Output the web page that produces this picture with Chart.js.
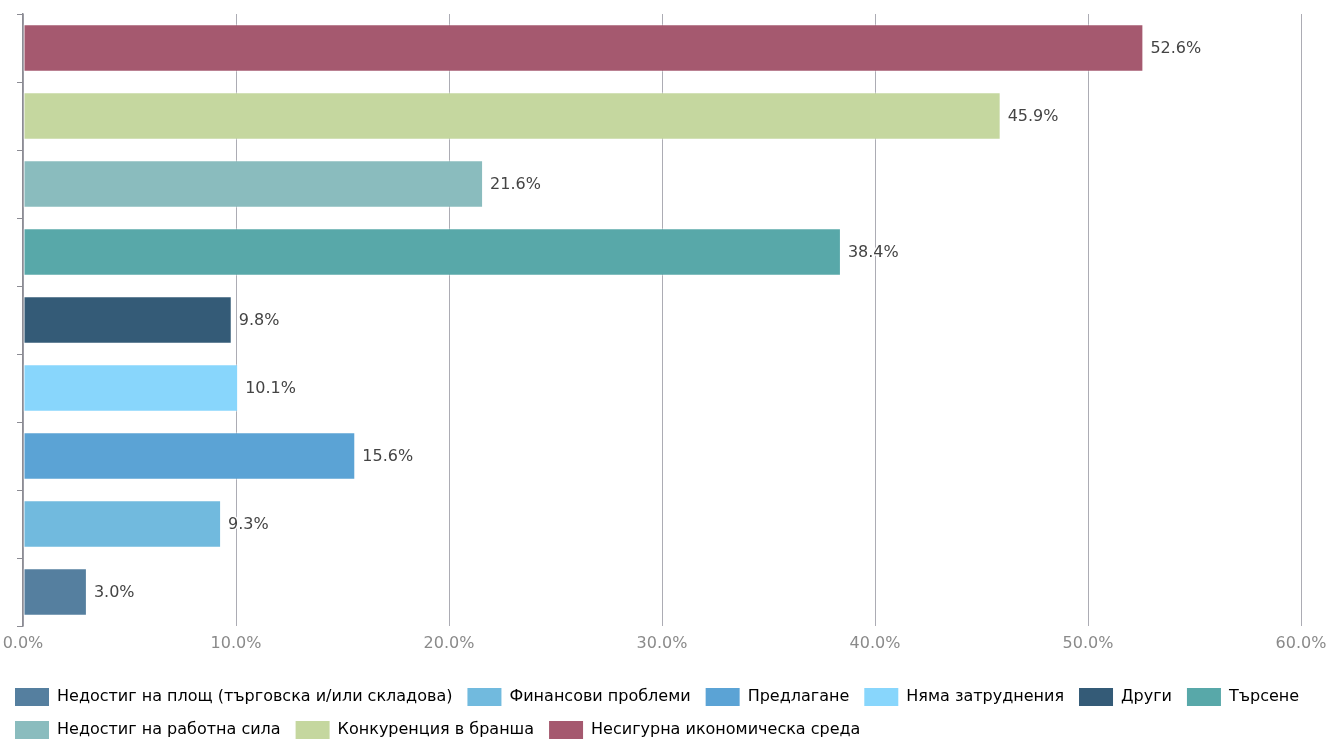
<!DOCTYPE html>
<html>
<head>
<meta charset="utf-8">
<script src="https://cdn.jsdelivr.net/npm/chart.js@4"></script>
<style>
  html, body { margin: 0; padding: 0; background: #fff; }
  #wrap { width: 1329px; height: 740px; position: relative; }
</style>
</head>
<body>
<div id="wrap"><canvas id="barChart"></canvas></div>
<script>
// categories, in legend order (drawn bottom to top)
const categories = [
    'Недостиг на площ (търговска и/или складова)',
    'Финансови проблеми',
    'Предлагане',
    'Няма затруднения',
    'Други',
    'Търсене',
    'Недостиг на работна сила',
    'Конкуренция в бранша',
    'Несигурна икономическа среда'
];
const shares = [3.0, 9.3, 15.6, 10.1, 9.8, 38.4, 21.6, 45.9, 52.6];
const barColors = ['#557f9f', '#71bade', '#5ba3d5', '#88d6fc', '#345b77', '#58a8a9', '#8abcbe', '#c5d79f', '#a5596f'];
const xTicks = [0, 10, 20, 30, 40, 50, 60];

Chart.defaults.font.family = '"DejaVu Sans", sans-serif';
Chart.defaults.font.size = 16;

// value labels at the end of each bar
const barValueLabels = {
    id: 'barValueLabels',
    afterDatasetsDraw(chart) {
        const ctx = chart.ctx;
        const meta = chart.getDatasetMeta(0);
        ctx.save();
        ctx.font = '16px "DejaVu Sans", sans-serif';
        ctx.textBaseline = 'middle';
        ctx.textAlign = 'left';
        ctx.lineJoin = 'round';
        meta.data.forEach((bar, i) => {
            if (!chart.getDataVisibility(i)) return;
            const text = shares[i].toFixed(1) + '%';
            ctx.strokeStyle = 'rgba(255,255,255,0.9)';
            ctx.lineWidth = 3;
            ctx.strokeText(text, bar.x + 7, bar.y + 1);
            ctx.fillStyle = '#444';
            ctx.fillText(text, bar.x + 7, bar.y + 1);
        });
        ctx.restore();
    }
};

const ctxBar = document.getElementById('barChart').getContext('2d');
new Chart(ctxBar, {
    type: 'bar',
    data: {
        labels: categories,
        datasets: [{
            label: 'Дял',
            data: shares,
            backgroundColor: barColors,
            borderColor: 'rgba(255,255,255,0.45)',
            borderWidth: 1,
            borderSkipped: false,
            categoryPercentage: 1,
            barPercentage: 0.7
        }]
    },
    options: {
        indexAxis: 'y',
        responsive: true,
        maintainAspectRatio: false,
        animation: false,
        layout: {
            padding: { top: 14, right: 0, left: 0, bottom: -9 }
        },
        scales: {
            x: {
                min: 0,
                max: 60,
                afterBuildTicks(scale) {
                    scale.ticks = xTicks.map(v => ({ value: v }));
                },
                afterFit(scale) {
                    // keep the 0% line flush with the left edge, leave room on the right
                    scale.paddingLeft = 0;
                    scale.paddingRight = 28;
                    scale.height = 47;
                },
                ticks: {
                    callback: v => v.toFixed(1) + '%',
                    color: '#8a8a8a',
                    padding: 8,
                    maxRotation: 0
                },
                grid: {
                    color: '#acacb4',
                    drawTicks: false
                },
                border: { display: false }
            },
            y: {
                reverse: true,
                ticks: { display: false },
                grid: {
                    drawOnChartArea: false,
                    tickLength: 6,
                    color: '#8c8c94'
                },
                border: { color: '#8c8c94', width: 1.5 },
                afterFit(scale) { scale.width = 23; }
            }
        },
        plugins: {
            legend: {
                position: 'bottom',
                align: 'start',
                labels: {
                    boxWidth: 34,
                    boxHeight: 18,
                    useBorderRadius: true,
                    borderRadius: 5,
                    padding: 15,
                    color: '#555',
                    generateLabels(chart) {
                        return chart.data.labels.map((label, i) => ({
                            text: label,
                            fillStyle: barColors[i],
                            strokeStyle: barColors[i],
                            lineWidth: 0,
                            hidden: !chart.getDataVisibility(i),
                            index: i
                        }));
                    }
                },
                onClick(e, item, legend) {
                    legend.chart.toggleDataVisibility(item.index);
                    legend.chart.update();
                }
            },
            tooltip: {
                callbacks: {
                    label: c => c.parsed.x.toFixed(1) + '%'
                }
            }
        }
    },
    plugins: [barValueLabels]
});
</script>
</body>
</html>
